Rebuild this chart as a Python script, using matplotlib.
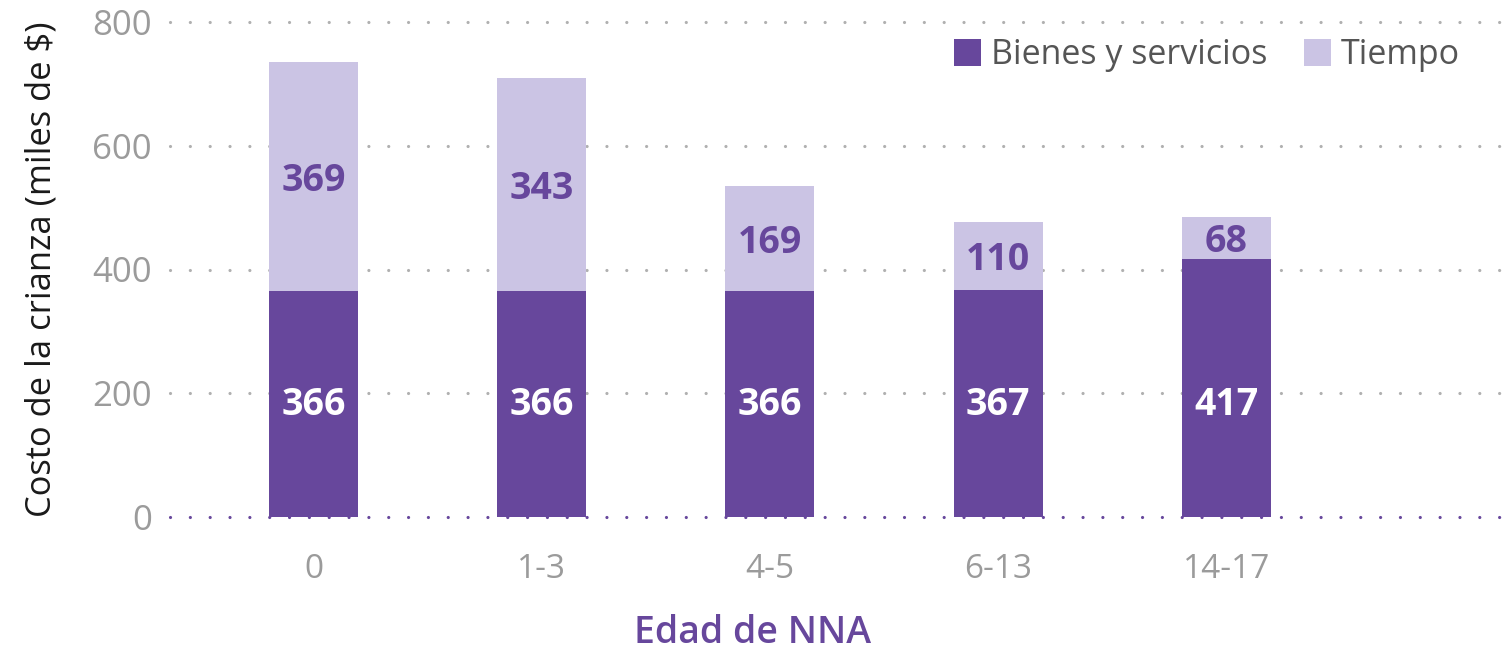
import matplotlib
matplotlib.use("Agg")
import matplotlib.pyplot as plt
from matplotlib.patches import Patch
import numpy as np

categories = ["0", "1-3", "4-5", "6-13", "14-17"]
bienes = [366, 366, 366, 367, 417]
tiempo = [369, 343, 169, 110, 68]
yticks = [0, 200, 400, 600, 800]

DARK = "#67479C"
LIGHT = "#CBC4E4"
GRAY = "#9B9B9B"

plt.rcParams['font.family'] = ['Open Sans', 'DejaVu Sans']

fig = plt.figure(figsize=(15.04, 6.5), dpi=100)
ax = fig.add_axes([170/1504, (650-517)/650, 1330/1504, 495/650])

x = np.arange(len(categories))
w = 0.39
ax.bar(x, bienes, width=w, color=DARK, zorder=3, label="Bienes y servicios")
ax.bar(x, tiempo, width=w, bottom=bienes, color=LIGHT, zorder=3, label="Tiempo")

label_y_dark = 188
for xi, b, t in zip(x, bienes, tiempo):
    ax.text(xi, label_y_dark, f"{b}", ha="center", va="center_baseline", color="white",
            fontsize=27, fontweight="bold", zorder=4)
    ax.text(xi, b + t/2, f"{t}", ha="center", va="center_baseline", color=DARK,
            fontsize=27, fontweight="bold", zorder=4)

for yv in yticks:
    c = DARK if yv == 0 else "#B0B0B0"
    ax.axhline(yv, color=c, lw=2.3, dashes=(0.01, 6.2), dash_capstyle="round",
               zorder=1, clip_on=False)

ax.set_xlim(-0.63, 5.2)
ax.set_ylim(0, 800)
ax.set_yticks(yticks)
ax.set_yticklabels([str(v) for v in yticks], fontsize=25, color=GRAY)
ax.set_xticks(x)
ax.set_xticklabels(categories, fontsize=24, color=GRAY)
ax.tick_params(axis="y", length=0, pad=13)
ax.tick_params(axis="x", length=0, pad=26)
for s in ax.spines.values():
    s.set_visible(False)

ax.set_ylabel("Costo de la crianza (miles de $)", fontsize=24.8, color="#1a1a1a", labelpad=24)
fig.text(0.5, (650-633)/650, "Edad de NNA", fontsize=27, color=DARK,
         fontweight="semibold", ha="center", va="center")

handles = [Patch(facecolor=DARK, label="Bienes y servicios"),
           Patch(facecolor=LIGHT, label="Tiempo")]
leg = ax.legend(handles=handles, loc="center right", bbox_to_anchor=(0.970, 0.933),
                ncol=2, frameon=False, fontsize=24.5, handlelength=0.8, handleheight=0.87,
                handletextpad=0.3, columnspacing=1.05, labelcolor="#555555",
                borderpad=0, borderaxespad=0)

fig.savefig("out.png", dpi=100)
